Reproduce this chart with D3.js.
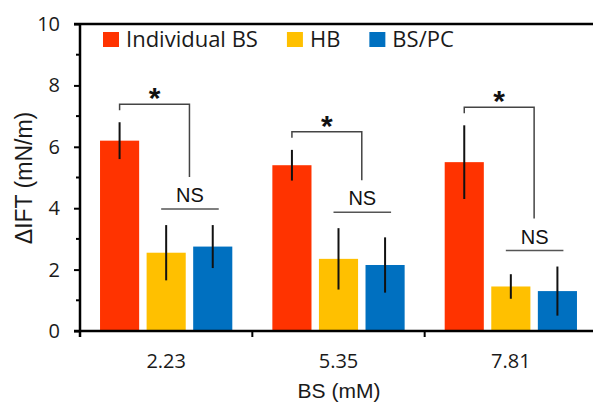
<!DOCTYPE html>
<html>
<head>
<meta charset="utf-8">
<script src="https://cdn.jsdelivr.net/npm/d3@7"></script>
<style>
  body { margin: 0; background: #fff; }
  svg { display: block; }
</style>
</head>
<body>
<script>
// chart data
var categories = ["2.23", "5.35", "7.81"];
var seriesNames = ["Individual BS", "HB", "BS/PC"];
var seriesColors = ["#ff3300", "#ffc000", "#0070c0"];
var individualBS = [6.2, 5.4, 5.5];
var individualErr = [0.6, 0.5, 1.2];
var hb = [2.55, 2.35, 1.45];
var hbErr = [0.9, 1.0, 0.4];
var bspc = [2.75, 2.15, 1.3];
var bspcErr = [0.7, 0.9, 0.8];
var yTicks = [0, 2, 4, 6, 8, 10];
var yMinorTicks = [1, 3, 5, 7, 9];

var width = 593, height = 403;
// note: "top" is taken by window.top, so plot edges get their own names
var plotLeft = 80, plotRight = 597, plotTop = 24, plotBottom = 331;

var svg = d3.select("body").append("svg")
  .attr("width", width)
  .attr("height", height);

var x0 = d3.scaleBand().domain(categories).range([plotLeft, plotRight]);
var x1 = d3.scaleBand().domain(seriesNames)
  .range([0, x0.bandwidth()])
  .paddingInner(0.16)
  .paddingOuter(0.43);
var y = d3.scaleLinear().domain([0, 10]).range([plotBottom, plotTop]);

var means = [individualBS, hb, bspc];
var errs = [individualErr, hbErr, bspcErr];

// flatten for drawing
var bars = [];
categories.forEach(function(c, i) {
  seriesNames.forEach(function(s, j) {
    bars.push({cat: c, series: s, color: seriesColors[j], v: means[j][i], e: errs[j][i]});
  });
});

var labelFont = "'Open Sans', sans-serif";
var arial = "'Liberation Sans', Arial, sans-serif";
var textColor = "#1a1a1a";

// bars
svg.append("g").selectAll("rect")
  .data(bars)
  .enter().append("rect")
  .attr("x", function(d) { return x0(d.cat) + x1(d.series); })
  .attr("y", function(d) { return y(d.v); })
  .attr("width", x1.bandwidth())
  .attr("height", function(d) { return y(0) - y(d.v); })
  .attr("fill", function(d) { return d.color; });

// error bars (no caps)
svg.append("g").selectAll("line")
  .data(bars)
  .enter().append("line")
  .attr("x1", function(d) { return x0(d.cat) + x1(d.series) + x1.bandwidth() / 2; })
  .attr("x2", function(d) { return x0(d.cat) + x1(d.series) + x1.bandwidth() / 2; })
  .attr("y1", function(d) { return y(d.v + d.e); })
  .attr("y2", function(d) { return y(d.v - d.e); })
  .attr("stroke", "#111")
  .attr("stroke-width", 2);

// y axis
var yAxis = svg.append("g")
  .attr("transform", "translate(" + plotLeft + ",0)")
  .call(d3.axisLeft(y).tickValues(yTicks).tickSize(6).tickPadding(14).tickFormat(d3.format("d")));
yAxis.select(".domain").remove();
yAxis.selectAll(".tick line").attr("stroke", "#000").attr("stroke-width", 2);
yAxis.selectAll("text")
  .attr("font-family", labelFont)
  .attr("font-size", 20)
  .attr("fill", textColor);

svg.append("g").selectAll("line")
  .data(yMinorTicks)
  .enter().append("line")
  .attr("x1", plotLeft - 4).attr("x2", plotLeft)
  .attr("y1", function(d) { return y(d); })
  .attr("y2", function(d) { return y(d); })
  .attr("stroke", "#000").attr("stroke-width", 2);

svg.append("line")
  .attr("x1", plotLeft).attr("x2", plotLeft)
  .attr("y1", plotTop - 1).attr("y2", plotBottom + 6)
  .attr("stroke", "#000").attr("stroke-width", 2.5);

// top border
svg.append("line")
  .attr("x1", plotLeft - 6).attr("x2", width)
  .attr("y1", plotTop).attr("y2", plotTop)
  .attr("stroke", "#000").attr("stroke-width", 2.5);

// x axis
svg.append("line")
  .attr("x1", plotLeft - 6).attr("x2", width)
  .attr("y1", plotBottom).attr("y2", plotBottom)
  .attr("stroke", "#000").attr("stroke-width", 2.5);

svg.append("g").selectAll("line")
  .data(categories.slice(1))
  .enter().append("line")
  .attr("x1", function(d) { return x0(d); })
  .attr("x2", function(d) { return x0(d); })
  .attr("y1", plotBottom).attr("y2", plotBottom + 6)
  .attr("stroke", "#000").attr("stroke-width", 2);

svg.append("g").selectAll("text")
  .data(categories)
  .enter().append("text")
  .attr("x", function(d) { return x0(d) + x0.bandwidth() / 2; })
  .attr("y", plotBottom + 37)
  .attr("text-anchor", "middle")
  .attr("font-family", labelFont)
  .attr("font-size", 20)
  .attr("fill", textColor)
  .text(function(d) { return d; });

// axis titles
svg.append("text")
  .attr("x", 339)
  .attr("y", 398)
  .attr("text-anchor", "middle")
  .attr("font-family", arial)
  .attr("font-size", 21)
  .attr("fill", textColor)
  .text("BS (mM)");

svg.append("text")
  .attr("transform", "translate(32,178) rotate(-90)")
  .attr("text-anchor", "middle")
  .attr("font-family", arial)
  .attr("font-size", 23)
  .attr("fill", textColor)
  .text("\u0394IFT (mN/m)");

// significance brackets
var sig = svg.append("g");
categories.forEach(function(c, i) {
  var bw = x1.bandwidth();
  var redX = x0(c) + x1("Individual BS") + bw / 2;
  var hbX = x0(c) + x1("HB") + bw / 2;
  var pcX = x0(c) + x1("BS/PC") + bw / 2;
  var midX = (x0(c) + x1("HB") + bw + x0(c) + x1("BS/PC")) / 2;
  var bracketY = y(individualBS[i] + individualErr[i]) - 18;
  var nsY = y(Math.max(hb[i] + hbErr[i], bspc[i] + bspcErr[i])) - 16;

  sig.append("path")
    .attr("d", "M" + redX + "," + (bracketY + 6) + "V" + bracketY + "H" + midX + "V" + (nsY - 32))
    .attr("fill", "none")
    .attr("stroke", "#444")
    .attr("stroke-width", 1.5);

  sig.append("text")
    .attr("x", (redX + midX) / 2)
    .attr("y", bracketY + 4)
    .attr("text-anchor", "middle")
    .attr("font-family", arial)
    .attr("font-weight", "bold")
    .attr("font-size", 30)
    .attr("fill", "#111")
    .text("*");

  sig.append("line")
    .attr("x1", hbX - 5).attr("x2", pcX + 6)
    .attr("y1", nsY).attr("y2", nsY)
    .attr("stroke", "#555")
    .attr("stroke-width", 1.5);

  sig.append("text")
    .attr("x", (hbX - 5 + pcX + 6) / 2)
    .attr("y", nsY - 7)
    .attr("text-anchor", "middle")
    .attr("font-family", arial)
    .attr("font-size", 20)
    .attr("fill", "#111")
    .text("NS");
});

// legend
var legend = svg.append("g");
var lx = 103;
seriesNames.forEach(function(s, j) {
  legend.append("rect")
    .attr("x", lx).attr("y", 32)
    .attr("width", 16).attr("height", 15)
    .attr("fill", seriesColors[j]);
  var t = legend.append("text")
    .attr("x", lx + 23)
    .attr("y", 47)
    .attr("font-family", labelFont)
    .attr("font-size", 22)
    .attr("fill", textColor)
    .text(s);
  lx += 23 + t.node().getComputedTextLength() + 29;
});
</script>
</body>
</html>
